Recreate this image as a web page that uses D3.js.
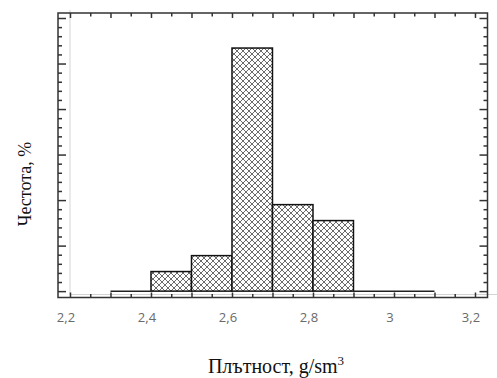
<!DOCTYPE html>
<html>
<head>
<meta charset="utf-8">
<script src="https://cdn.jsdelivr.net/npm/d3@7"></script>
<style>
  body { margin: 0; background: #fff; }
  svg { display: block; }
</style>
</head>
<body>
<svg id="chart" width="497" height="378"></svg>
<script>
// Histogram bins (start of each 0.1 wide bin) and frequencies, %
const binStarts = [2.4, 2.5, 2.6, 2.7, 2.8];
const frequencies = [4.3, 7.8, 53.4, 19.0, 15.5];
const binWidth = 0.1;

// Empty bins drawn as flat segments on the zero line
const emptyRanges = [[2.3, 2.4], [2.9, 3.1]];

// Axis ticks
const xTickValues = [2.2, 2.4, 2.6, 2.8, 3.0, 3.2];
const xTickLabels = ['2,2', '2,4', '2,6', '2,8', '3', '3,2'];
const yMajorTicks = [0, 10, 20, 30, 40, 50, 60];

const svg = d3.select('#chart');

// Plot frame
const frame = { left: 58, right: 487.5, top: 13, bottom: 297.5 };

const x = d3.scaleLinear().domain([2.1704, 3.2309]).range([frame.left, frame.right]);
const y = d3.scaleLinear().domain([-1.4, 61.1]).range([frame.bottom, frame.top]);

// Cross hatch fill
const defs = svg.append('defs');
const pat = defs.append('pattern')
    .attr('id', 'hatch')
    .attr('patternUnits', 'userSpaceOnUse')
    .attr('width', 6)
    .attr('height', 6);
pat.append('rect').attr('width', 6).attr('height', 6).attr('fill', '#fff');
pat.append('path')
    .attr('d', 'M0,0L6,6M6,0L0,6M-1,5L1,7M5,-1L7,1M5,7L7,5M-1,1L1,-1')
    .attr('stroke', '#3a3a3a')
    .attr('stroke-width', 0.75);

// Light gray reference lines
svg.append('line')
    .attr('x1', x(2.2)).attr('x2', x(2.2))
    .attr('y1', 10).attr('y2', 295)
    .attr('stroke', '#d4d4d4').attr('stroke-width', 1);
svg.append('line')
    .attr('x1', x(2.2)).attr('x2', 497)
    .attr('y1', 294.5).attr('y2', 294.5)
    .attr('stroke', '#d4d4d4').attr('stroke-width', 1);

// Bars
svg.selectAll('.bar')
    .data(binStarts)
    .enter()
    .append('rect')
    .attr('class', 'bar')
    .attr('x', d => x(d))
    .attr('width', d => x(d + binWidth) - x(d))
    .attr('y', (d, i) => y(frequencies[i]))
    .attr('height', (d, i) => y(0) - y(frequencies[i]))
    .attr('fill', 'url(#hatch)')
    .attr('stroke', '#111')
    .attr('stroke-width', 1.5);

// Empty bins
svg.selectAll('.empty')
    .data(emptyRanges)
    .enter()
    .append('line')
    .attr('class', 'empty')
    .attr('x1', d => x(d[0])).attr('x2', d => x(d[1]))
    .attr('y1', y(0)).attr('y2', y(0))
    .attr('stroke', '#222')
    .attr('stroke-width', 1.5);

// Ticks
const xAll = d3.range(0, 21).map(i => 2.2 + i * 0.05);
const xMajor = xAll.filter((d, i) => i % 2 === 0);
const xMinor = xAll.filter((d, i) => i % 2 === 1);
const yMinor = d3.range(0, 62, 2).filter(d => d % 10 !== 0);

function tickAxis(axis, values, size) {
    return axis.tickValues(values).tickSize(size).tickFormat('');
}
function drawTicks(gen, tx, ty) {
    const g = svg.append('g')
        .attr('transform', `translate(${tx},${ty})`)
        .call(gen);
    g.select('.domain').remove();
    g.selectAll('line').attr('stroke', '#333').attr('stroke-width', 1.5);
}

drawTicks(tickAxis(d3.axisRight(y), yMajorTicks, 8), frame.left, 0);
drawTicks(tickAxis(d3.axisRight(y), yMinor, 4), frame.left, 0);
drawTicks(tickAxis(d3.axisLeft(y), yMajorTicks, 8), frame.right, 0);
drawTicks(tickAxis(d3.axisLeft(y), yMinor, 4), frame.right, 0);
drawTicks(tickAxis(d3.axisTop(x), xMajor, 5), 0, frame.bottom);
drawTicks(tickAxis(d3.axisTop(x), xMinor, 3.5), 0, frame.bottom);
drawTicks(tickAxis(d3.axisBottom(x), xMajor, 5), 0, frame.top);
drawTicks(tickAxis(d3.axisBottom(x), xMinor, 3.5), 0, frame.top);

// Frame
svg.append('rect')
    .attr('x', frame.left).attr('y', frame.top)
    .attr('width', frame.right - frame.left).attr('height', frame.bottom - frame.top)
    .attr('fill', 'none')
    .attr('stroke', '#333')
    .attr('stroke-width', 1.5);

// Tick labels
svg.selectAll('.xlabel')
    .data(xTickValues)
    .enter()
    .append('text')
    .attr('class', 'xlabel')
    .attr('x', d => x(d) - 4)
    .attr('y', 322)
    .attr('text-anchor', 'middle')
    .attr('font-family', 'Open Sans, sans-serif')
    .attr('font-size', 13)
    .attr('fill', '#6a6a6a')
    .text((d, i) => xTickLabels[i]);

// Axis titles
svg.append('text')
    .attr('transform', 'translate(31,184) rotate(-90)')
    .attr('text-anchor', 'middle')
    .attr('font-family', 'Liberation Serif, serif')
    .attr('font-size', 18)
    .attr('fill', '#111')
    .text('Честота, %');

const xt = svg.append('text')
    .attr('x', 276)
    .attr('y', 373)
    .attr('text-anchor', 'middle')
    .attr('font-family', 'Liberation Serif, serif')
    .attr('font-size', 20)
    .attr('fill', '#111');
xt.append('tspan').text('Плътност, g/sm');
xt.append('tspan').attr('font-size', 13).attr('dy', -8).text('3');
</script>
</body>
</html>
